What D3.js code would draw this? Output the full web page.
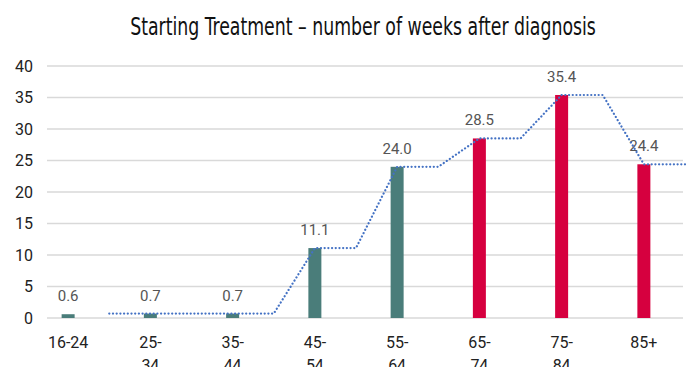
<!DOCTYPE html>
<html>
<head>
<meta charset="utf-8">
<script src="https://cdn.jsdelivr.net/npm/d3@7"></script>
<style>
  html, body { margin: 0; padding: 0; background: #fff; }
  svg { display: block; }
</style>
</head>
<body>
<svg id="chart" width="687" height="367"></svg>
<script>
// Age bands and weeks from diagnosis to starting treatment
const categories = ["16-24", "25-34", "35-44", "45-54", "55-64", "65-74", "75-84", "85+"];
const weeks = [0.6, 0.7, 0.7, 11.1, 24.0, 28.5, 35.4, 24.4];
// Trend line values per band (none for the first band)
const trend = [null, 0.7, 0.7, 11.1, 24.0, 28.5, 35.4, 24.4];
// Bands drawn in the highlight colour
const highlighted = ["65-74", "75-84", "85+"];
const yTicks = [0, 5, 10, 15, 20, 25, 30, 35, 40];

const svg = d3.select("#chart");
const plot = { left: 27, right: 685, top: 66, bottom: 318, gridLeft: 47, gridRight: 683 };

const x = d3.scaleBand().domain(categories).range([plot.left, plot.right]).paddingInner(0).paddingOuter(0);
const y = d3.scaleLinear().domain([0, 40]).range([plot.bottom, plot.top]);
const barW = 13;
const labelFont = "Roboto, 'Open Sans', sans-serif";

// Title: tall condensed lettering, squeezed horizontally to about 466px
const titleG = svg.append("g");
const title = titleG.append("text")
  .attr("x", 0).attr("y", 0)
  .attr("text-anchor", "middle")
  .attr("font-family", "'DejaVu Sans Condensed', 'Liberation Sans', sans-serif")
  .attr("font-size", 24)
  .attr("fill", "#111")
  .text("Starting Treatment – number of weeks after diagnosis");
const natural = title.node().getComputedTextLength();
titleG.attr("transform", `translate(363,35) scale(${466 / natural},1)`);

// Gridlines
svg.append("g").selectAll("line").data(yTicks).join("line")
  .attr("x1", plot.gridLeft).attr("x2", plot.gridRight)
  .attr("y1", d => y(d)).attr("y2", d => y(d))
  .attr("stroke", "#d9d9d9").attr("stroke-width", 1.3);

// Y axis labels
const yAxis = d3.axisLeft(y).tickValues(yTicks).tickSize(0).tickPadding(0);
const yg = svg.append("g").attr("transform", "translate(33,0)").call(yAxis);
yg.select(".domain").remove();
yg.selectAll("text")
  .attr("font-family", labelFont)
  .attr("font-size", 16).attr("fill", "#222");

// Bars
svg.append("g").selectAll("rect").data(categories).join("rect")
  .attr("x", d => x(d) + x.bandwidth() / 2 - barW / 2)
  .attr("width", barW)
  .attr("y", (d, i) => y(weeks[i]))
  .attr("height", (d, i) => y(0) - y(weeks[i]))
  .attr("fill", d => highlighted.includes(d) ? "#d6003f" : "#4a7d7a");

// Value labels
svg.append("g").selectAll("text").data(categories).join("text")
  .attr("x", d => x(d) + x.bandwidth() / 2)
  .attr("y", (d, i) => y(weeks[i]) - 13)
  .attr("text-anchor", "middle")
  .attr("font-family", labelFont)
  .attr("font-size", 15).attr("fill", "#555")
  .text((d, i) => weeks[i].toFixed(1));

// Trend line: holds each band's value from its centre to its right edge
const pts = [];
categories.forEach((c, i) => {
  const v = trend[i];
  if (v == null) return;
  const start = pts.length === 0 ? x(c) : x(c) + x.bandwidth() / 2;
  pts.push([start, v]);
  pts.push([x(c) + x.bandwidth(), v]);
});
svg.append("path")
  .datum(pts)
  .attr("d", d3.line().x(d => d[0]).y(d => y(d[1])))
  .attr("fill", "none")
  .attr("stroke", "#4472c4")
  .attr("stroke-width", 2.2)
  .attr("stroke-dasharray", "0.1 3.6")
  .attr("stroke-linecap", "round");

// X axis labels (wrapped after the hyphen)
const xg = svg.append("g");
categories.forEach(c => {
  const parts = c === "16-24" ? [c] : (c.includes("-") ? [c.split("-")[0] + "-", c.split("-")[1]] : [c]);
  const cx = x(c) + x.bandwidth() / 2;
  const t = xg.append("text")
    .attr("x", cx)
    .attr("y", 348)
    .attr("text-anchor", "middle")
    .attr("font-family", labelFont)
    .attr("font-size", 16).attr("fill", "#222");
  parts.forEach((p, k) => {
    t.append("tspan").attr("x", cx).attr("dy", k === 0 ? 0 : 23).text(p);
  });
});
</script>
</body>
</html>
